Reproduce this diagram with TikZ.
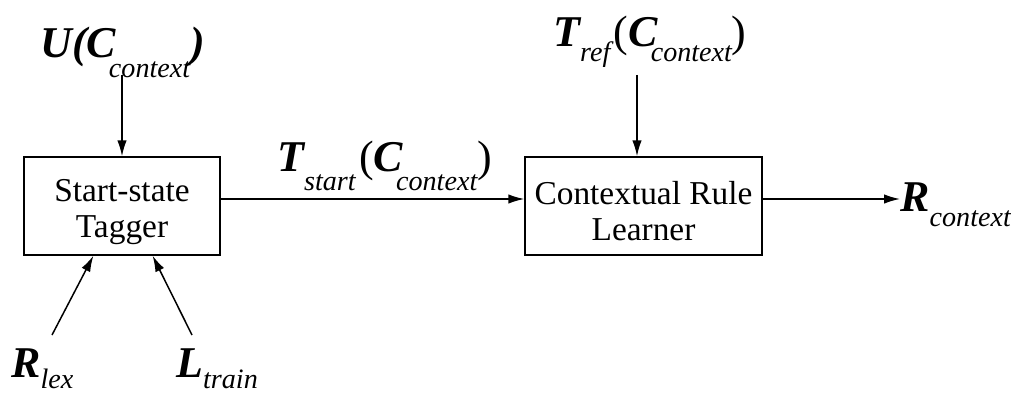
\documentclass[tikz,border=0pt]{standalone}
\usepackage{fontspec}
\setmainfont{Liberation Serif}
\usetikzlibrary{arrows.meta,positioning,calc}

% label pieces: bold italic letters and italic subscripts
\newcommand{\lbf}[1]{{\bfseries\itshape #1}}
\newcommand{\lsub}[2][0.34cm]{\raisebox{-#1}{\fontsize{16}{16}\selectfont\itshape #2}}

\begin{document}
\begin{tikzpicture}[
        x=0.02cm, y=-0.02cm,
        box/.style={rectangle,draw,line width=0.85pt,minimum height=1.96cm,align=center,inner sep=0pt,
            font=\fontsize{19}{20.5}\selectfont},
        lbl/.style={inner sep=0pt,anchor=base west,font=\fontsize{25}{25}\selectfont},
        arrow/.style={-{Latex[length=3.2mm,width=1.9mm]},line width=0.85pt}
    ]
        \useasboundingbox (0,0) rectangle (1011,395);

        \node[box, minimum width=3.92cm] (tagger) at (122,206) {\rule{0pt}{19pt}Start-state\\Tagger};
        \node[box, minimum width=4.74cm] (learner) at (643.5,206) {\rule{0pt}{19pt}Contextual Rule\\Learner};

        % inputs and outputs
        \node[lbl] (uctx) at (40,58) {\lbf{U(C}\kern-4pt\lsub[0.4cm]{context}\lbf{)}};
        \node[lbl] (tref) at (553,47) {\lbf{T}\lsub[0.3cm]{ref}\kern2pt(\lbf{C}\kern-4pt\lsub[0.3cm]{context})};
        \node[lbl] (tstart) at (277,172) {\lbf{T}\lsub[0.38cm]{start}\kern2pt(\lbf{C}\kern-4pt\lsub[0.38cm]{context})};
        \node[lbl] (rctx) at (900,212) {\lbf{R}\lsub[0.3cm]{context}};
        \node[lbl] (rlex) at (11,377) {\lbf{R}\lsub[0.24cm]{lex}};
        \node[lbl] (ltrain) at (176,377) {\lbf{L}\lsub[0.24cm]{train}};

        \coordinate (uin) at (122,75);
        \coordinate (trefin) at (637,75);
        \coordinate (rlexin) at (52,335);
        \coordinate (ltrainin) at (192,335);

        \draw[arrow] (uin) -- (uin |- tagger.north);
        \draw[arrow] (trefin) -- (trefin |- learner.north);
        \draw[arrow] ([yshift=0.14cm]tagger.east) -- ([yshift=0.14cm]learner.west);
        \draw[arrow] ([yshift=0.14cm]learner.east) -- ([yshift=0.14cm]learner.east -| rctx.west);
        \draw[arrow] (rlexin) -- ($(tagger.south west)!0.355!(tagger.south east)$);
        \draw[arrow] (ltrainin) -- ($(tagger.south west)!0.655!(tagger.south east)$);
    \end{tikzpicture}
\end{document}
